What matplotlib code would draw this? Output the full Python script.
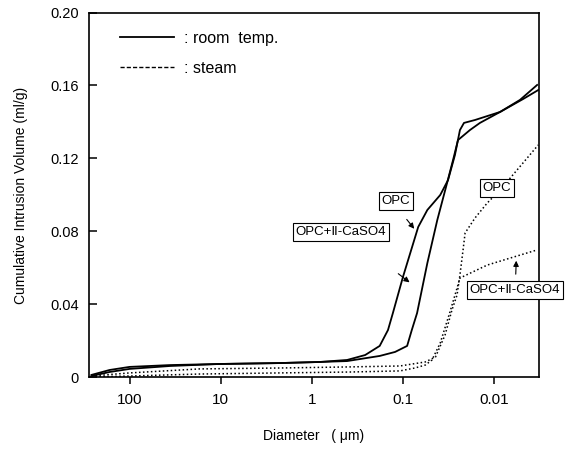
import matplotlib
matplotlib.use("Agg")
import matplotlib.pyplot as plt
from matplotlib.lines import Line2D

plt.rcParams["font.family"] = ["Liberation Sans", "DejaVu Sans", "Noto Sans CJK JP"]

# pore diameter (um) and cumulative intrusion volume (ml/g)
room_opc_d = [262, 166, 100, 36, 10.3, 2.25, 0.82, 0.41, 0.26, 0.18, 0.146, 0.129,
              0.100, 0.068, 0.054, 0.039, 0.032, 0.0269, 0.0237, 0.0214, 0.0162,
              0.0086, 0.0048, 0.00328]
room_opc_v = [0.0014, 0.0041, 0.0058, 0.0068, 0.0074, 0.0079, 0.0085, 0.0096, 0.0123,
              0.0173, 0.0260, 0.0353, 0.0551, 0.0825, 0.0918, 0.1000, 0.1082, 0.1219,
              0.1356, 0.1395, 0.1411, 0.1455, 0.1526, 0.1575]

room_cas_d = [262, 166, 100, 36, 10.3, 2.25, 0.82, 0.41, 0.18, 0.122, 0.090, 0.080,
              0.070, 0.054, 0.042, 0.0328, 0.0282, 0.0249, 0.0184, 0.0143, 0.0086,
              0.0052, 0.00337]
room_cas_v = [0.0008, 0.0030, 0.0047, 0.0063, 0.0074, 0.0079, 0.0085, 0.0090, 0.0118,
              0.0140, 0.0173, 0.0260, 0.0353, 0.0627, 0.0863, 0.1066, 0.1192, 0.1301,
              0.1356, 0.1395, 0.1455, 0.1521, 0.1603]

steam_opc_d = [262, 100, 17, 2.25, 0.38, 0.108, 0.057, 0.044, 0.0345, 0.029, 0.0255,
               0.0237, 0.0219, 0.0208, 0.0162, 0.0119, 0.0086, 0.0056, 0.00328]
steam_opc_v = [0.0008, 0.0025, 0.0047, 0.0052, 0.0058, 0.0063, 0.0085, 0.0112, 0.0233,
               0.0370, 0.0452, 0.0562, 0.0699, 0.0792, 0.0874, 0.0956, 0.1027, 0.1137,
               0.1274]

steam_cas_d = [262, 100, 17, 2.25, 0.38, 0.108, 0.074, 0.057, 0.048, 0.039, 0.0305,
               0.0255, 0.0237, 0.0119, 0.0067, 0.00337]
steam_cas_v = [0.0003, 0.0008, 0.0019, 0.0025, 0.0030, 0.0036, 0.0052, 0.0068, 0.0096,
               0.0189, 0.0359, 0.0490, 0.0545, 0.0616, 0.0654, 0.0699]

x_ticks = [100, 10, 1, 0.1, 0.01]
x_tick_labels = ["100", "10", "1", "0.1", "0.01"]
y_ticks = [0, 0.04, 0.08, 0.12, 0.16, 0.20]
y_tick_labels = ["0", "0.04", "0.08", "0.12", "0.16", "0.20"]

fig = plt.figure(figsize=(5.73, 4.53), dpi=100)
ax = fig.add_axes([0.155, 0.1667, 0.786, 0.8057])

solid = dict(color="black", lw=1.3, ls="-")
dots = dict(color="black", lw=1.1, ls=(0, (1, 1.6)))
ax.plot(room_opc_d, room_opc_v, **solid)
ax.plot(room_cas_d, room_cas_v, **solid)
ax.plot(steam_opc_d, steam_opc_v, **dots)
ax.plot(steam_cas_d, steam_cas_v, **dots)

ax.set_xscale("log")
ax.set_xlim(280, 0.0032)
ax.set_ylim(0, 0.20)
ax.set_xticks(x_ticks)
ax.set_xticklabels(x_tick_labels)
ax.set_yticks(y_ticks)
ax.set_yticklabels(y_tick_labels)
ax.minorticks_off()
ax.tick_params(axis="x", direction="out", length=5, width=1.1, pad=6, labelsize=11)
ax.tick_params(axis="y", direction="in", length=6, width=1.1, pad=7, labelsize=10.5)
for sp in ax.spines.values():
    sp.set_linewidth(1.2)

ax.set_xlabel("Diameter   ( \u03bcm)", fontsize=10, labelpad=16)
ax.set_ylabel("Cumulative Intrusion Volume (ml/g)", fontsize=10, labelpad=16)

# legend drawn as two sample lines with ": label" text
handles = [Line2D([], [], color="black", lw=1.3),
           Line2D([], [], color="black", lw=1.0, ls=(0, (3, 1.5)))]
ax.legend(handles, [": room  temp.", ": steam"], loc="upper left",
          bbox_to_anchor=(0.069, 0.95), frameon=False, fontsize=11.5,
          handlelength=3.4, handletextpad=0.6, labelspacing=0.95, borderpad=0,
          borderaxespad=0)

box = dict(boxstyle="square,pad=0.2", fc="white", ec="black", lw=0.8)
arrow = dict(arrowstyle="-|>", color="black", lw=0.8, mutation_scale=8)
lab_cas = "OPC+\u2161-CaSO4"
fs_box = 9.5

ax.text(0.119, 0.0967, "OPC", fontsize=fs_box, ha="center", va="center", bbox=box)
ax.annotate("", xy=(0.072, 0.0803), xytext=(0.095, 0.0878), arrowprops=arrow)
ax.text(0.48, 0.0797, lab_cas, fontsize=fs_box, ha="center", va="center", bbox=box)
ax.annotate("", xy=(0.080, 0.0512), xytext=(0.119, 0.0578), arrowprops=arrow)
ax.text(0.0093, 0.1038, "OPC", fontsize=fs_box, ha="center", va="center", bbox=box)
ax.text(0.00588, 0.0479, lab_cas, fontsize=fs_box, ha="center", va="center", bbox=box,
        clip_on=False)
ax.annotate("", xy=(0.0057, 0.0655), xytext=(0.0058, 0.0551), arrowprops=arrow)

fig.savefig("out.png", dpi=100)
plt.close(fig)
